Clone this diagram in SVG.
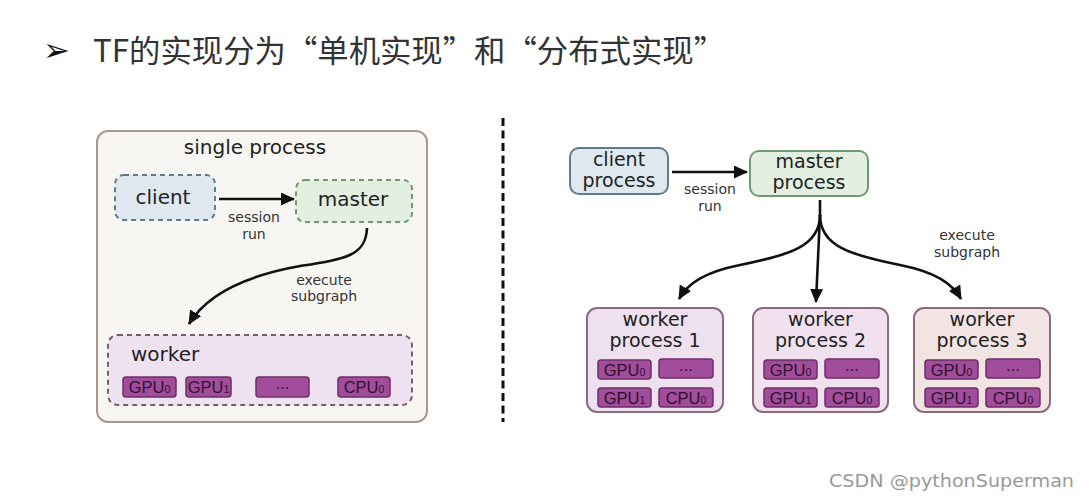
<svg xmlns="http://www.w3.org/2000/svg" width="1089" height="501" viewBox="0 0 1089 501">
<style>
.t{font-family:"DejaVu Sans","Liberation Sans",sans-serif;fill:#222;}
.big{font-size:20px;}
.mid{font-size:19px;}
.sm{font-size:14px;fill:#333;}
.chip{fill:#a24c9c;stroke:#6e2e68;stroke-width:1.5;}
.ct{font-family:"Liberation Sans","DejaVu Sans",sans-serif;font-size:16.5px;fill:#2e122e;text-anchor:middle;}
.sub{font-size:10.5px;}
.arr{fill:none;stroke:#111;stroke-width:2.6;}
.wk{stroke:#8b6b7e;stroke-width:2;}
</style>
<defs>
<marker id="ah" markerWidth="15" markerHeight="13" refX="13" refY="6.5" orient="auto" markerUnits="userSpaceOnUse">
<path d="M0,0 L14,6.5 L0,13 Z" fill="#111"/>
</marker>
</defs>
<rect width="1089" height="501" fill="#fff"/>

<g id="title">
<text x="43" y="61" font-family="DejaVu Sans,sans-serif" font-size="32" fill="#111">➢</text>
<text x="93" y="62" font-family="'Noto Sans CJK SC',sans-serif" font-size="31" fill="#333" textLength="632" lengthAdjust="spacingAndGlyphs">TF的实现分为“单机实现”和“分布式实现”</text>
</g>

<g id="single-process">
<rect x="97" y="131" width="330" height="291" rx="11" fill="#f8f6f3" stroke="#a8978c" stroke-width="2"/>
<text class="t big" x="255" y="154" text-anchor="middle">single process</text>
</g>

<g id="client">
<rect x="115" y="175" width="100" height="45" rx="9" fill="#dfe8ef" stroke="#5d7d8d" stroke-width="2" stroke-dasharray="5,4"/>
<text class="t big" x="163" y="204" text-anchor="middle">client</text>
</g>

<g id="master">
<rect x="296" y="180" width="116" height="42" rx="9" fill="#e3f0e1" stroke="#6f9a6d" stroke-width="2" stroke-dasharray="5,4"/>
<text class="t big" x="353" y="206" text-anchor="middle">master</text>
</g>

<g id="worker">
<rect x="108" y="335" width="304" height="70" rx="10" fill="#efe2f0" stroke="#7d5a72" stroke-width="2" stroke-dasharray="5,4"/>
<text class="t big" x="131" y="361">worker</text>
<rect class="chip" x="123" y="377" width="53" height="20" rx="3"/>
<text class="ct" x="149.5" y="393">GPU<tspan class="sub">0</tspan></text>
<rect class="chip" x="186" y="377" width="45" height="20" rx="3"/>
<text class="ct" x="208.5" y="393">GPU<tspan class="sub">1</tspan></text>
<rect class="chip" x="256" y="377" width="53" height="20" rx="3"/>
<text class="ct" x="282.5" y="389" font-size="11">...</text>
<rect class="chip" x="338" y="377" width="52" height="20" rx="3"/>
<text class="ct" x="364" y="393">CPU<tspan class="sub">0</tspan></text>
</g>

<g id="divider">
<line x1="503" y1="118" x2="503" y2="422" stroke="#111" stroke-width="3" stroke-dasharray="8,4.5"/>
</g>

<g id="client-process">
<rect x="570" y="148" width="98" height="46" rx="9" fill="#dfe8ef" stroke="#5d7d8d" stroke-width="2"/>
<text class="t mid" x="619" y="166" text-anchor="middle">client</text>
<text class="t mid" x="619" y="187" text-anchor="middle">process</text>
</g>

<g id="master-process">
<rect x="750" y="151" width="118" height="45" rx="9" fill="#e3f0e1" stroke="#6f9a6d" stroke-width="2"/>
<text class="t mid" x="809" y="168" text-anchor="middle">master</text>
<text class="t mid" x="809" y="189" text-anchor="middle">process</text>
</g>

<g id="worker-process-1">
<rect class="wk" x="587" y="308" width="136" height="104" rx="10" fill="#efe0ef"/>
<text class="t mid" x="655" y="326" text-anchor="middle">worker</text>
<text class="t mid" x="655" y="347" text-anchor="middle">process 1</text>
<rect class="chip" x="598" y="360" width="53" height="19" rx="3"/>
<text class="ct" x="624.5" y="375.5">GPU<tspan class="sub">0</tspan></text>
<rect class="chip" x="659" y="359" width="54" height="19" rx="3"/>
<text class="ct" x="686" y="371" font-size="11">...</text>
<rect class="chip" x="598" y="388" width="53" height="19" rx="3"/>
<text class="ct" x="624.5" y="403.5">GPU<tspan class="sub">1</tspan></text>
<rect class="chip" x="659" y="388" width="54" height="19" rx="3"/>
<text class="ct" x="686" y="403.5">CPU<tspan class="sub">0</tspan></text>
</g>

<g id="worker-process-2">
<rect class="wk" x="753" y="308" width="135" height="104" rx="10" fill="#f1e1ee"/>
<text class="t mid" x="820.5" y="326" text-anchor="middle">worker</text>
<text class="t mid" x="820.5" y="347" text-anchor="middle">process 2</text>
<rect class="chip" x="764" y="360" width="53" height="19" rx="3"/>
<text class="ct" x="790.5" y="375.5">GPU<tspan class="sub">0</tspan></text>
<rect class="chip" x="825" y="359" width="54" height="19" rx="3"/>
<text class="ct" x="852" y="371" font-size="11">...</text>
<rect class="chip" x="764" y="388" width="53" height="19" rx="3"/>
<text class="ct" x="790.5" y="403.5">GPU<tspan class="sub">1</tspan></text>
<rect class="chip" x="825" y="388" width="54" height="19" rx="3"/>
<text class="ct" x="852" y="403.5">CPU<tspan class="sub">0</tspan></text>
</g>

<g id="worker-process-3">
<rect class="wk" x="914" y="308" width="136" height="104" rx="10" fill="#f3e4e4"/>
<text class="t mid" x="982" y="326" text-anchor="middle">worker</text>
<text class="t mid" x="982" y="347" text-anchor="middle">process 3</text>
<rect class="chip" x="925" y="360" width="53" height="19" rx="3"/>
<text class="ct" x="951.5" y="375.5">GPU<tspan class="sub">0</tspan></text>
<rect class="chip" x="986" y="359" width="54" height="19" rx="3"/>
<text class="ct" x="1013" y="371" font-size="11">...</text>
<rect class="chip" x="925" y="388" width="53" height="19" rx="3"/>
<text class="ct" x="951.5" y="403.5">GPU<tspan class="sub">1</tspan></text>
<rect class="chip" x="986" y="388" width="54" height="19" rx="3"/>
<text class="ct" x="1013" y="403.5">CPU<tspan class="sub">0</tspan></text>
</g>

<g id="connectors">
<path class="arr" d="M219,199 L294,199" marker-end="url(#ah)"/>
<text class="t sm" x="254" y="222" text-anchor="middle">session</text>
<text class="t sm" x="254" y="239" text-anchor="middle">run</text>
<path class="arr" d="M367,228 C366,256 345,259 300,266 C250,275 208,292 189,324" marker-end="url(#ah)"/>
<text class="t sm" x="324" y="285" text-anchor="middle">execute</text>
<text class="t sm" x="324" y="301" text-anchor="middle">subgraph</text>

<path class="arr" d="M672,172 L747,172" marker-end="url(#ah)"/>
<text class="t sm" x="710" y="194" text-anchor="middle">session</text>
<text class="t sm" x="710" y="211" text-anchor="middle">run</text>
<path class="arr" d="M820,200 L820,216"/>
<path class="arr" d="M820,215 C820,246 790,255 740,265 C705,272 688,283 679,299" marker-end="url(#ah)"/>
<path class="arr" d="M820,215 C820,246 850,255 900,265 C935,272 952,283 961,299" marker-end="url(#ah)"/>
<path class="arr" d="M820,215 L816,302" marker-end="url(#ah)"/>
<text class="t sm" x="967" y="240" text-anchor="middle">execute</text>
<text class="t sm" x="967" y="257" text-anchor="middle">subgraph</text>
</g>

<g id="watermark">
<text x="829" y="487" font-family="'DejaVu Sans',sans-serif" font-size="17" fill="#999" textLength="245" lengthAdjust="spacingAndGlyphs">CSDN @pythonSuperman</text>
</g>
</svg>
